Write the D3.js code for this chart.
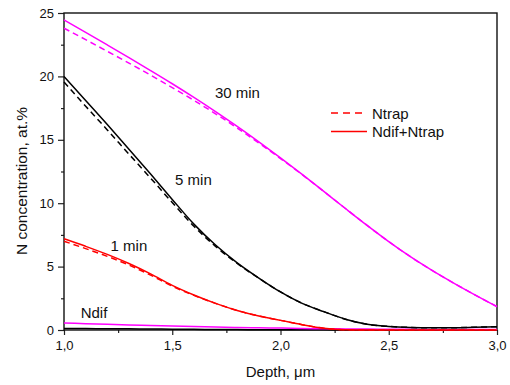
<!DOCTYPE html>
<html>
<head>
<meta charset="utf-8">
<script src="https://cdn.jsdelivr.net/npm/d3@7"></script>
<style>
  body { margin: 0; background: #fff; }
  svg { font-family: "Liberation Sans", Arial, sans-serif; }
</style>
</head>
<body>
<div id="chart"></div>
<script>
// depth grid, um
const depth = [1.0, 1.1, 1.2, 1.3, 1.4, 1.5, 1.6, 1.7, 1.8, 1.9, 2.0,
               2.1, 2.2, 2.3, 2.4, 2.5, 2.6, 2.7, 2.8, 2.9, 3.0];

// Ndif+Ntrap (solid)
const total30 = [24.45, 23.47, 22.48, 21.48, 20.46, 19.42, 18.34, 17.22, 16.05, 14.83, 13.57,
                 12.27, 10.93, 9.58, 8.25, 6.97, 5.78, 4.7, 3.7, 2.75, 1.84];
const total5  = [20.0, 18.1, 16.2, 14.25, 12.3, 10.3, 8.35, 6.7, 5.3, 4.1, 3.0,
                 2.1, 1.45, 0.85, 0.45, 0.28, 0.2, 0.17, 0.18, 0.22, 0.26];
const total1  = [7.2, 6.6, 5.96, 5.24, 4.42, 3.52, 2.76, 2.1, 1.54, 1.1, 0.76,
                 0.42, 0.14, 0.02, 0, 0, 0, 0, 0, 0, 0];

// Ntrap (dashed)
const trap30 = [23.8, 22.9, 21.98, 21.05, 20.1, 19.12, 18.11, 17.05, 15.93, 14.75, 13.52,
                12.25, 10.93, 9.58, 8.25, 6.97, 5.78, 4.7, 3.7, 2.75, 1.84];
const trap5  = [19.55, 17.65, 15.78, 13.87, 11.98, 10.05, 8.18, 6.6, 5.25, 4.08, 3.0,
                2.1, 1.45, 0.85, 0.45, 0.28, 0.2, 0.17, 0.18, 0.22, 0.26];
const trap1  = [7.0, 6.42, 5.81, 5.12, 4.33, 3.46, 2.73, 2.1, 1.54, 1.1, 0.76,
                0.42, 0.14, 0.02, 0, 0, 0, 0, 0, 0, 0];

// Ndif alone, near zero
const dif30 = [0.55, 0.5, 0.45, 0.4, 0.36, 0.32, 0.28, 0.24, 0.2, 0.17, 0.15,
               0.12, 0.1, 0.085, 0.07, 0.06, 0.05, 0.045, 0.04, 0.035, 0.03];
const dif5  = [0.12, 0.11, 0.1, 0.09, 0.08, 0.06, 0.05, 0.04, 0.03, 0.025, 0.02,
               0.015, 0.01, 0.005, 0, 0, 0, 0, 0, 0, 0];

const xTicks = [1.0, 1.5, 2.0, 2.5, 3.0];
const yTicks = [0, 5, 10, 15, 20, 25];

const labels = [
  {text: "30 min", x: 1.697, y: 18.3},
  {text: "5 min", x: 1.513, y: 11.4},
  {text: "1 min", x: 1.215, y: 6.2},
  {text: "Ndif", x: 1.077, y: 0.92}
];

const margin = {top: 13, right: 13, bottom: 55, left: 64};
const width = 510 - margin.left - margin.right;
const height = 385 - margin.top - margin.bottom;

const x = d3.scaleLinear().domain([1, 3]).range([0, width]);
const y = d3.scaleLinear().domain([0, 25]).range([height, 0]);

const svg = d3.select("#chart").append("svg")
    .attr("width", 510)
    .attr("height", 385);

const plot = svg.append("g")
    .attr("transform", "translate(" + margin.left + "," + margin.top + ")");

const comma = d => d3.format(".1f")(d).replace(".", ",");

// minor ticks first
plot.append("g")
    .attr("transform", "translate(0," + height + ")")
    .call(d3.axisBottom(x).tickValues(d3.range(1.25, 3, 0.5)).tickSize(3).tickFormat(""))
    .call(g => g.select(".domain").remove());
plot.append("g")
    .call(d3.axisLeft(y).tickValues(d3.range(2.5, 25, 5)).tickSize(3).tickFormat(""))
    .call(g => g.select(".domain").remove());

const xAxis = plot.append("g")
    .attr("transform", "translate(0," + height + ")")
    .call(d3.axisBottom(x).tickValues(xTicks).tickSize(5).tickPadding(6).tickFormat(comma));
const yAxis = plot.append("g")
    .call(d3.axisLeft(y).tickValues(yTicks).tickSize(6).tickPadding(4));

plot.selectAll(".tick line").attr("stroke", "#222").attr("stroke-width", 1.2);
[xAxis, yAxis].forEach(a => {
  a.select(".domain").remove();
  a.selectAll("text").attr("font-size", 13).attr("fill", "#111")
    .attr("font-family", "Liberation Sans, Arial, sans-serif");
});

// frame
plot.append("rect")
    .attr("width", width).attr("height", height)
    .attr("fill", "none").attr("stroke", "#111").attr("stroke-width", 1.4);

const line = d3.line()
    .x((d, i) => x(depth[i]))
    .y(d => y(d))
    .curve(d3.curveMonotoneX);

const series = [
  {v: dif5, c: "#000", dash: null},
  {v: dif30, c: "#ff00ff", dash: null},
  {v: total1, c: "#ff0000", dash: null},
  {v: total5, c: "#000", dash: null},
  {v: total30, c: "#ff00ff", dash: null},
  {v: trap1, c: "#ff0000", dash: "6,4"},
  {v: trap5, c: "#000", dash: "6,4"},
  {v: trap30, c: "#ff00ff", dash: "6,4"}
];

plot.selectAll(".curve")
  .data(series)
  .enter().append("path")
    .attr("class", "curve")
    .attr("d", d => line(d.v))
    .attr("fill", "none")
    .attr("stroke", d => d.c)
    .attr("stroke-width", 1.5)
    .attr("stroke-dasharray", d => d.dash);

plot.selectAll(".lbl")
  .data(labels)
  .enter().append("text")
    .attr("class", "lbl")
    .attr("x", d => x(d.x))
    .attr("y", d => y(d.y))
    .attr("font-size", 15)
    .attr("fill", "#111")
    .text(d => d.text);

// legend
const legend = svg.append("g").attr("transform", "translate(331,113)");
const legendItems = [
  {name: "Ntrap", dash: "7,5"},
  {name: "Ndif+Ntrap", dash: null}
];
legendItems.forEach((d, i) => {
  const g = legend.append("g").attr("transform", "translate(0," + i * 18.5 + ")");
  g.append("line").attr("x1", 0).attr("x2", 36)
    .attr("stroke", "#ff0000").attr("stroke-width", 1.6)
    .attr("stroke-dasharray", d.dash);
  g.append("text").attr("x", 41).attr("y", 5.5)
    .attr("font-size", 15).attr("fill", "#111").text(d.name);
});

// axis titles
svg.append("text")
    .attr("x", margin.left + width / 2)
    .attr("y", 377)
    .attr("text-anchor", "middle")
    .attr("font-size", 15)
    .attr("fill", "#111")
    .text("Depth, \u03bcm");

svg.append("text")
    .attr("transform", "translate(27,181) rotate(-90)")
    .attr("text-anchor", "middle")
    .attr("font-size", 15.5)
    .attr("fill", "#111")
    .text("N concentration, at.%");
</script>
</body>
</html>
